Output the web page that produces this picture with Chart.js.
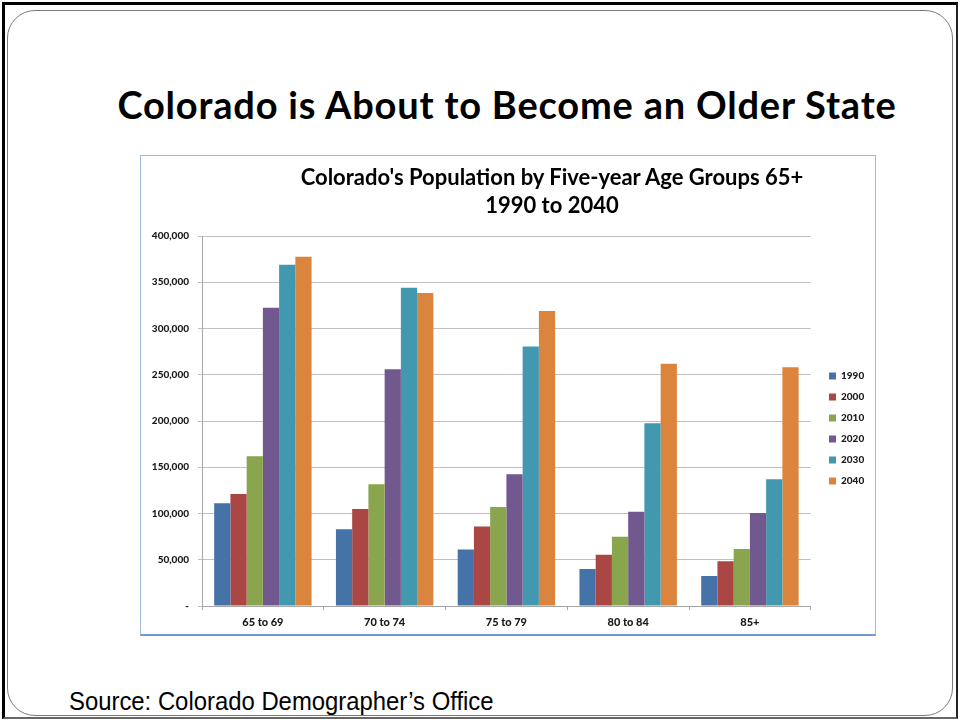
<!DOCTYPE html>
<html>
<head>
<meta charset="utf-8">
<script src="https://cdn.jsdelivr.net/npm/chart.js@4/dist/chart.umd.min.js"></script>
<style>
    html, body { margin: 0; padding: 0; background: #fff; }
    #slide { position: relative; width: 960px; height: 721px; overflow: hidden; font-family: Lato, "Open Sans", sans-serif; }
    #frame { position: absolute; left: 2px; top: 2px; width: 956px; height: 717px; box-sizing: border-box;
             border-top: 3px solid #000; border-left: 3px solid #000; border-right: 2px solid #222; border-bottom: 2px solid #666; }
    #card { position: absolute; left: 7px; top: 10px; width: 946px; height: 706px; box-sizing: border-box;
            border: 1px solid #7a7a7a; border-radius: 28px; }
    #heading { position: absolute; left: 0; width: 1014px; top: 81px; text-align: center;
               font-weight: bold; font-size: 38px; letter-spacing: 0.8px; color: #000; }
    #box { position: absolute; left: 140px; top: 155px; width: 736px; height: 481px; box-sizing: border-box;
           border: 1px solid #9bbbe0; border-bottom: 2px solid #6f99cf; background: #fff; }
    #box canvas { position: absolute; left: 0; top: 0; }
    #chartTitle { position: absolute; left: 140px; width: 824px; top: 163px; text-align: center;
                  font-weight: bold; font-size: 22px; line-height: 28px; color: #000; }
    #source { position: absolute; left: 69px; top: 686px; font-family: "Liberation Sans", Arial, sans-serif;
              font-size: 26px; color: #000; transform: scaleX(0.918); transform-origin: left top; white-space: nowrap; }
</style>
</head>
<body>
<div id="slide">
    <div id="frame"></div>
    <div id="card"></div>
    <div id="heading">Colorado is About to Become an Older State</div>
    <div id="box"><canvas id="popChart" width="734" height="478"></canvas></div>
    <div id="chartTitle">Colorado's Population by Five-year Age Groups 65+<br>1990 to 2040</div>
    <div id="source">Source: Colorado Demographer’s Office</div>
</div>
<script>
// values
const ageGroups = ['65 to 69', '70 to 74', '75 to 79', '80 to 84', '85+'];
const years = ['1990', '2000', '2010', '2020', '2030', '2040'];
const pop1990 = [111000, 83000, 61000, 40000, 32500];
const pop2000 = [121000, 105000, 86000, 55500, 48500];
const pop2010 = [162000, 131500, 107000, 75000, 61500];
const pop2020 = [322500, 256000, 142500, 102000, 100500];
const pop2030 = [369000, 344000, 280500, 197500, 137000];
const pop2040 = [377500, 338500, 319000, 262000, 258000];
const yMax = 400000;
const yStep = 50000;

const seriesValues = [pop1990, pop2000, pop2010, pop2020, pop2030, pop2040];
const seriesColors = ['#4572A7', '#AA4643', '#89A54E', '#71588F', '#4198AF', '#DB843D'];

const labelFont = { family: 'Lato, "Open Sans", sans-serif', size: 10, weight: 900 };
const catFont = { family: 'Lato, "Open Sans", sans-serif', size: 11, weight: 900 };

// put the first legend entry where it sits in the reference
const legendSpot = { x: 688, y: 220 };
const moveLegend = {
    id: 'moveLegend',
    afterLayout(chart) {
        const lg = chart.legend;
        if (!lg || !lg.columnSizes || !lg.columnSizes.length) return;
        const pad = lg.options.labels.padding;
        const colH = lg.columnSizes[0].height;
        const firstMid = (lg.top + pad + lg.bottom - colH) / 2 + labelFont.size / 2;
        const dx = legendSpot.x - (lg.left + pad);
        const dy = legendSpot.y - firstMid;
        lg.left += dx; lg.right += dx;
        lg.top += dy; lg.bottom += dy;
    }
};

new Chart(document.getElementById('popChart'), {
    type: 'bar',
    data: {
        labels: ageGroups,
        datasets: years.map((yr, i) => ({
            label: yr,
            data: seriesValues[i],
            backgroundColor: seriesColors[i],
            borderWidth: 0,
            categoryPercentage: 0.8,
            barPercentage: 1.0
        }))
    },
    options: {
        responsive: false,
        animation: false,
        devicePixelRatio: 1,
        layout: { padding: { top: 80, right: 8, bottom: 0, left: 0 } },
        plugins: {
            title: { display: false },
            tooltip: { enabled: false },
            legend: {
                position: 'right',
                labels: {
                    boxWidth: 7,
                    boxHeight: 7,
                    padding: 11,
                    color: '#1a1a1a',
                    font: labelFont
                }
            }
        },
        scales: {
            x: {
                grid: { drawOnChartArea: false, drawTicks: true, tickLength: 4, color: '#a6a6a6' },
                border: { color: '#a6a6a6' },
                ticks: { color: '#1a1a1a', font: catFont, padding: 6 },
                afterFit(scale) { scale.height = 28; }
            },
            y: {
                min: 0,
                max: yMax,
                grid: { color: '#bfbfbf', tickLength: 4 },
                border: { color: '#a6a6a6' },
                ticks: {
                    stepSize: yStep,
                    color: '#1a1a1a',
                    font: labelFont,
                    padding: 9,
                    callback: v => v === 0 ? '-' : v.toLocaleString('en-US')
                },
                afterFit(scale) { scale.width = 61; }
            }
        }
    },
    plugins: [moveLegend]
});
</script>
</body>
</html>
